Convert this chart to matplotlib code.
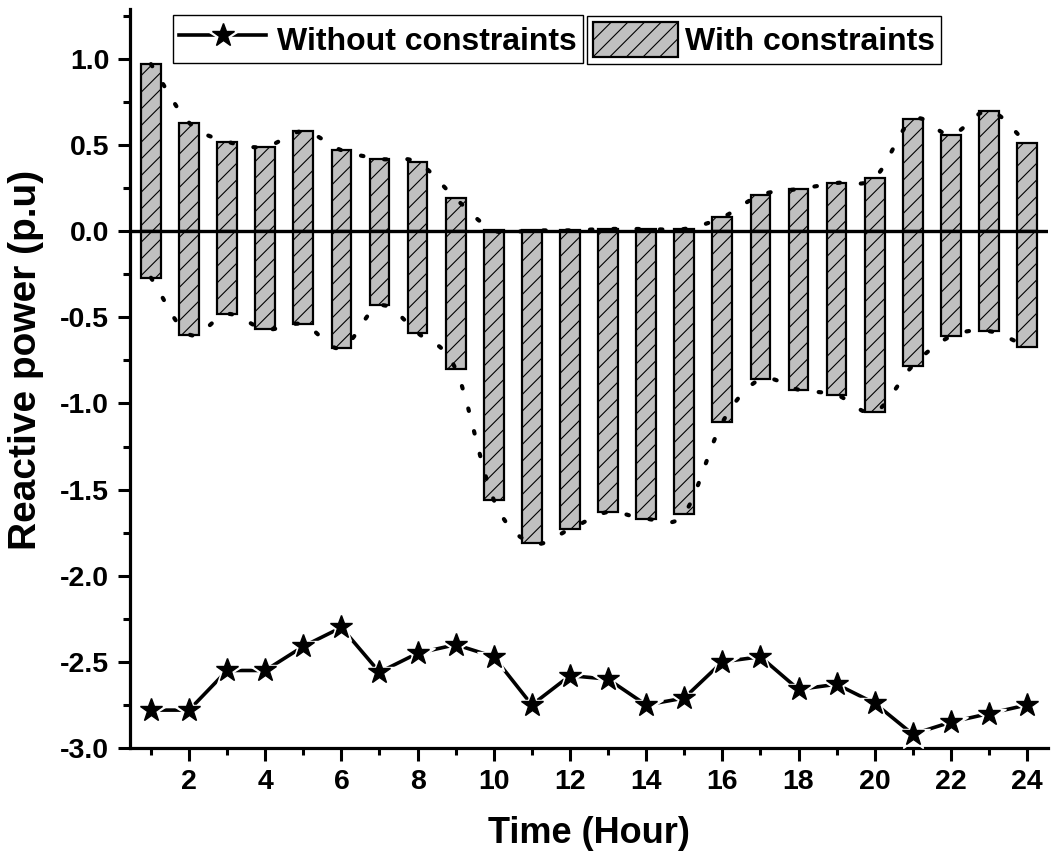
import numpy as np
import matplotlib
matplotlib.use("Agg")
import matplotlib.pyplot as plt
from matplotlib.lines import Line2D
from matplotlib.patches import Patch
from matplotlib.ticker import MultipleLocator, FormatStrFormatter

plt.rcParams['font.family'] = ['Liberation Sans', 'DejaVu Sans']
plt.rcParams['font.weight'] = 'bold'
plt.rcParams['axes.unicode_minus'] = False
plt.rcParams['hatch.linewidth'] = 0.8

hours = np.arange(1, 25)

# reactive power range with constraints (upper / lower limit per hour)
q_upper = [0.97, 0.63, 0.52, 0.49, 0.58, 0.47, 0.42, 0.40, 0.19, 0.005, 0.005, 0.005,
           0.013, 0.013, 0.013, 0.08, 0.21, 0.245, 0.28, 0.31, 0.65, 0.56, 0.70, 0.51]
q_lower = [-0.27, -0.60, -0.48, -0.57, -0.54, -0.68, -0.43, -0.59, -0.80, -1.56, -1.81, -1.73,
           -1.63, -1.67, -1.64, -1.11, -0.86, -0.92, -0.95, -1.05, -0.78, -0.61, -0.58, -0.67]

# reactive power without constraints
q_free = [-2.78, -2.78, -2.55, -2.55, -2.41, -2.30, -2.56, -2.45, -2.40, -2.47, -2.75, -2.58,
          -2.60, -2.75, -2.71, -2.50, -2.47, -2.66, -2.63, -2.74, -2.92, -2.85, -2.80, -2.75]


def smooth(x, y, n=12):
    # Catmull-Rom curve through the given points
    x = np.asarray(x, float)
    y = np.asarray(y, float)
    px = np.concatenate([[2 * x[0] - x[1]], x, [2 * x[-1] - x[-2]]])
    py = np.concatenate([[2 * y[0] - y[1]], y, [2 * y[-1] - y[-2]]])
    t = np.linspace(0, 1, n, endpoint=False)
    xs, ys = [], []
    for i in range(1, len(px) - 2):
        for p, out in ((px, xs), (py, ys)):
            p0, p1, p2, p3 = p[i - 1:i + 3]
            out.append(0.5 * (2 * p1 + (-p0 + p2) * t
                              + (2 * p0 - 5 * p1 + 4 * p2 - p3) * t ** 2
                              + (-p0 + 3 * p1 - 3 * p2 + p3) * t ** 3))
    xs.append([x[-1]])
    ys.append([y[-1]])
    return np.concatenate(xs), np.concatenate(ys)


fig = plt.figure(figsize=(10.55, 8.68), dpi=100)
ax = fig.add_axes([130 / 1055, 120 / 868, 918 / 1055, 739 / 868])

bar_kw = dict(width=0.52, color='#c0c0c0', edgecolor='black', linewidth=1.6,
              hatch='//', zorder=2)
ax.bar(hours, q_upper, **bar_kw)
ax.bar(hours, q_lower, **bar_kw)

ax.axhline(0, color='black', lw=2.4, zorder=3)

dot_kw = dict(color='black', lw=3.0, linestyle=(0, (0.6, 5.0)),
              dash_capstyle='round', zorder=4)
ax.plot(*smooth(hours, q_upper), **dot_kw)
ax.plot(*smooth(hours, q_lower), **dot_kw)

ax.plot(hours, q_free, color='black', lw=2.6, zorder=5)
ax.plot(hours, q_free, 'w*', ms=25, zorder=6)
ax.plot(hours, q_free, 'k*', ms=17, zorder=7)

ax.set_xlim(0.45, 24.55)
ax.set_ylim(-3.0, 1.29)
ax.xaxis.set_major_locator(MultipleLocator(2))
ax.xaxis.set_minor_locator(MultipleLocator(1))
ax.yaxis.set_major_locator(MultipleLocator(0.5))
ax.yaxis.set_minor_locator(MultipleLocator(0.25))
ax.yaxis.set_major_formatter(FormatStrFormatter('%.1f'))

for side in ('top', 'right'):
    ax.spines[side].set_visible(False)
for side in ('left', 'bottom'):
    ax.spines[side].set_linewidth(2.3)

ax.tick_params(which='major', direction='out', length=9, width=2.2,
               labelsize=20.5, pad=6)
ax.tick_params(which='minor', direction='out', length=5, width=2.2)
ax.set_xticks(np.arange(2, 25, 2))

ax.set_xlabel('Time (Hour)', fontsize=26, fontweight='bold', labelpad=15)
ax.set_ylabel('Reactive power (p.u)', fontsize=28, fontweight='bold')
ax.yaxis.set_label_coords(-0.094, 0.525)

free_handle = (Line2D([], [], color='black', lw=2.6),
               Line2D([], [], color='white', marker='*', ms=25, ls='none'),
               Line2D([], [], color='black', marker='*', ms=17, ls='none'))
con_handle = Patch(facecolor='#c0c0c0', edgecolor='black', linewidth=1.6, hatch='//')

leg_kw = dict(frameon=True, fancybox=False, edgecolor='black',
              framealpha=1, borderaxespad=0, handleheight=1.3,
              prop={'weight': 'bold', 'size': 23})
leg1 = fig.legend([free_handle], ['Without constraints'], loc='upper left',
                  bbox_to_anchor=(173 / 1055, 1 - 15 / 868), handlelength=2.7,
                  handletextpad=0.35, borderpad=0.2, **leg_kw)
leg2 = fig.legend([con_handle], ['With constraints'], loc='upper left',
                  bbox_to_anchor=(587 / 1055, 1 - 16 / 868), handlelength=2.66,
                  handletextpad=0.2, borderpad=0.2, **leg_kw)
for leg in (leg1, leg2):
    leg.get_frame().set_linewidth(1.0)

fig.savefig('out.png', dpi=100)
